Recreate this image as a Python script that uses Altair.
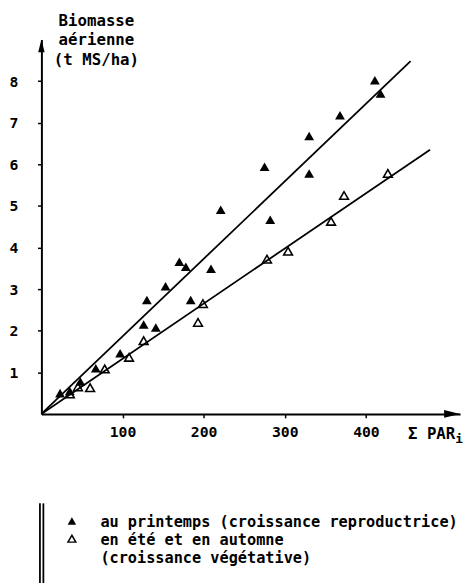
import altair as alt
import pandas as pd

# ---- data ----
spring_x = [23, 35, 48, 67, 97, 126, 130, 141, 153, 170, 178, 184, 209, 221, 275, 282, 330, 330, 368, 411, 418]
spring_y = [0.50, 0.55, 0.78, 1.10, 1.46, 2.15, 2.74, 2.08, 3.07, 3.66, 3.54, 2.74, 3.49, 4.91, 5.94, 4.67, 6.68, 5.78, 7.18, 8.02, 7.70]

summer_x = [35, 45, 60, 78, 108, 126, 193, 199, 278, 304, 357, 373, 427]
summer_y = [0.48, 0.65, 0.63, 1.08, 1.36, 1.76, 2.20, 2.65, 3.72, 3.91, 4.63, 5.25, 5.78]

fit_spring_x = [0, 455]
fit_spring_y = [0, 8.48]
fit_summer_x = [0, 479]
fit_summer_y = [0, 6.35]

x_ticks = [100, 200, 300, 400]
y_ticks = [1, 2, 3, 4, 5, 6, 7, 8]
x_domain = [0, 516]
y_domain = [0, 9]

title_lines = ["Biomasse", "aérienne", "(t MS/ha)"]
x_title = "Σ PAR"
x_title_sub = "i"
legend_labels = ["au printemps (croissance reproductrice)", "en été et en automne", "(croissance végétative)"]

MONO = "DejaVu Sans Mono"

spring = pd.DataFrame({"x": spring_x, "y": spring_y})
summer = pd.DataFrame({"x": summer_x, "y": summer_y})
fits = pd.DataFrame({
    "x": fit_spring_x + fit_summer_x,
    "y": fit_spring_y + fit_summer_y,
    "s": ["printemps"] * 2 + ["ete"] * 2,
})

xs = alt.Scale(domain=x_domain, nice=False, zero=True)
ys = alt.Scale(domain=y_domain, nice=False, zero=True)

axis_common = dict(
    domainColor="black", domainWidth=2, tickColor="black", tickWidth=1.5, tickSize=4,
    labelFont=MONO, labelFontWeight="bold", labelFontSize=15, labelColor="black",
    grid=False, title=None,
)

X = alt.X("x:Q", scale=xs, axis=alt.Axis(values=x_ticks, labelPadding=7, **axis_common))
Y = alt.Y("y:Q", scale=ys, axis=alt.Axis(values=y_ticks, labelPadding=20, **axis_common))

lines = alt.Chart(fits).mark_line(color="black", strokeWidth=1.8).encode(
    x=X, y=Y, detail="s:N"
)
pts_spring = alt.Chart(spring).mark_point(
    shape="triangle-up", filled=True, size=100, color="black", opacity=1
).encode(x=X, y=Y)
pts_summer = alt.Chart(summer).mark_point(
    shape="triangle-up", filled=False, size=80, strokeWidth=1.6, color="black", opacity=1
).encode(x=X, y=Y)

# axis arrow heads, positioned in data space at the ends of the axes
arrow_up = alt.Chart(pd.DataFrame({"x": [0], "y": [y_domain[1]]})).mark_point(
    shape="M0,0L0.5,2L-0.5,2Z", filled=True, size=169, color="black", opacity=1
).encode(x=X, y=Y)
arrow_right = alt.Chart(pd.DataFrame({"x": [x_domain[1]], "y": [0]})).mark_point(
    shape="M0,0L-2.5,0.6L-2.5,-0.6Z", filled=True, size=169, color="black", opacity=1
).encode(x=X, y=Y)

# y axis title (three lines, above the axis)
ytitle = alt.Chart(pd.DataFrame({"t": ["\n".join(title_lines)]})).mark_text(
    font=MONO, fontWeight="bold", fontSize=16, lineBreak="\n", lineHeight=19.5,
    align="center", baseline="alphabetic", color="black"
).encode(text="t:N", x=alt.value(56), y=alt.value(-13.5))

# x axis title with subscript
xt = alt.Chart(pd.DataFrame({"t": [x_title]})).mark_text(
    font=MONO, fontWeight="bold", fontSize=16, align="left", baseline="alphabetic", color="black"
).encode(text="t:N", x=alt.value(373), y=alt.value(407))
xt_sub = alt.Chart(pd.DataFrame({"t": [x_title_sub]})).mark_text(
    font=MONO, fontWeight="bold", fontSize=13, align="left", baseline="alphabetic", color="black"
).encode(text="t:N", x=alt.value(421), y=alt.value(411))

# legend
leg_df = pd.DataFrame({"label": legend_labels, "row": [0, 1, 2]})
bar_df = pd.DataFrame({"k": [0]})
bar1 = alt.Chart(bar_df).mark_rule(color="black", strokeWidth=1.8).encode(
    x=alt.value(-1.5), y=alt.value(472), y2=alt.value(560))
bar2 = alt.Chart(bar_df).mark_rule(color="black", strokeWidth=1.8).encode(
    x=alt.value(2.0), y=alt.value(472), y2=alt.value(560))
leg_sym1 = alt.Chart(bar_df).mark_point(
    shape="triangle-up", filled=True, size=75, color="black", opacity=1
).encode(x=alt.value(31), y=alt.value(490))
leg_sym2 = alt.Chart(bar_df).mark_point(
    shape="triangle-up", filled=False, size=64, strokeWidth=1.5, color="black", opacity=1
).encode(x=alt.value(31), y=alt.value(508))

leg_text_rows = []
row_y = [496, 514, 533]
for i in range(3):
    leg_text_rows.append(
        alt.Chart(leg_df).transform_filter(alt.datum.row == i).mark_text(
            font=MONO, fontWeight="bold", fontSize=15.5, align="left",
            baseline="alphabetic", color="black"
        ).encode(text="label:N", x=alt.value(60), y=alt.value(row_y[i]))
    )

chart = alt.layer(
    lines, pts_spring, pts_summer, arrow_up, arrow_right, ytitle, xt, xt_sub,
    bar1, bar2, leg_sym1, leg_sym2, *leg_text_rows
).properties(
    width=426, height=381,
    autosize=alt.AutoSizeParams(type="none"),
    padding={"left": 34, "top": 27, "right": 4, "bottom": 167},
    background="white",
).configure_view(strokeWidth=0)

chart.save("out.html", embed_options={"renderer": "svg", "actions": False})
